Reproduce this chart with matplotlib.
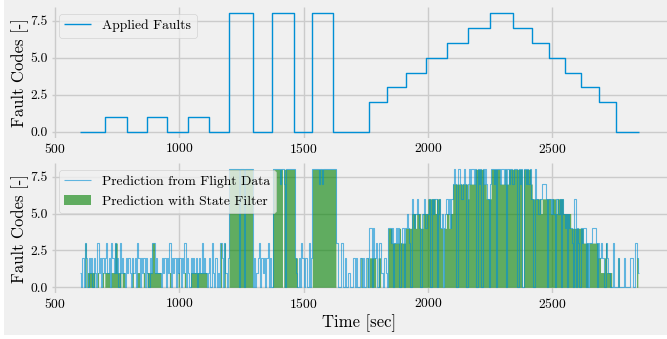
import numpy as np
import matplotlib
matplotlib.use("Agg")
import matplotlib.pyplot as plt
from matplotlib.patches import Rectangle

# ---------------- data ----------------
# Applied faults: change points (time [s]) and fault code from that time on
fault_times = [600, 700, 790, 870, 950, 1035, 1120, 1200, 1295, 1372, 1462, 1534, 1620,
               1765, 1835, 1912, 1993, 2077, 2163, 2252, 2342, 2418, 2487, 2554, 2617,
               2688, 2758, 2850]
fault_codes = [0, 1, 0, 1, 0, 1, 0, 8, 0, 8, 0, 8, 0,
               2, 3, 4, 5, 6, 7, 8, 7, 6, 5, 4, 3,
               2, 0, 0]

# Predictions sampled every 5 s from 600 s to 2850 s
pred_start = 600
pred_step = 5
pred_raw = [
    1,0,2,0,3,2,0,2,1,2,0,2,1,0,3,1,2,0,2,1,   # 600
    2,3,1,2,0,3,2,1,3,1,2,0,3,1,2,1,0,2,1,2,   # 700
    1,0,2,1,2,0,3,2,0,2,1,2,0,2,1,0,2,1,3,3,   # 800
    1,2,1,1,1,0,2,1,2,0,2,1,3,0,2,1,2,0,2,1,   # 900
    2,0,2,1,3,0,2,1,0,2,1,2,1,2,0,1,2,1,3,1,   # 1000
    2,1,0,1,2,0,3,1,0,2,0,1,0,3,2,0,3,1,0,2,   # 1100
    8,8,8,8,8,8,8,8,0,8,8,8,0,8,8,8,8,8,8,0,   # 1200
    2,0,1,2,3,0,2,1,2,0,2,3,0,2,0,8,8,8,8,8,   # 1300
    8,7,8,8,7,0,8,8,8,8,8,8,8,2,1,0,2,0,3,2,   # 1400
    0,2,2,0,3,0,2,8,8,8,8,8,7,8,8,7,8,8,8,8,   # 1500
    8,8,8,8,8,8,3,3,0,0,3,3,0,2,0,0,1,0,0,0,   # 1600
    2,0,2,0,0,2,2,0,2,0,2,2,0,4,4,0,4,2,3,0,   # 1700
    0,3,1,1,0,2,1,0,4,4,3,4,0,3,4,3,4,0,3,4,   # 1800
    4,0,4,5,4,3,0,6,5,4,5,6,5,4,0,5,5,6,4,5,   # 1900
    5,6,0,6,5,6,6,0,5,6,4,5,0,4,5,6,5,6,4,6,   # 2000
    7,8,7,0,8,8,7,6,7,8,7,0,7,8,7,8,8,7,8,0,   # 2100
    8,7,8,0,8,7,8,7,6,0,7,8,8,7,8,0,8,8,7,8,   # 2200
    8,7,8,0,8,7,8,8,7,8,8,8,0,8,7,8,0,8,8,7,   # 2300
    8,7,8,6,6,0,8,6,6,5,6,6,7,7,7,6,0,6,6,5,   # 2400
    6,5,0,6,6,5,6,0,6,5,4,5,0,5,4,4,3,0,6,0,   # 2500
    4,3,0,4,3,4,4,0,3,0,3,3,4,4,4,3,0,3,2,3,   # 2600
    2,2,0,3,2,1,1,0,0,3,0,0,0,2,0,0,0,0,2,0,   # 2700
    0,0,0,2,2,0,0,3,2,1,1,                     # 2800-2850
]
pred_filtered = [
    0,0,0,0,3,0,1,1,1,1,1,1,0,0,1,0,0,0,1,0,   # 600
    1,1,1,1,0,1,1,1,3,3,1,1,1,0,1,1,0,0,0,0,   # 700
    0,0,1,0,0,0,1,1,0,0,0,1,0,0,1,1,1,1,3,3,   # 800
    1,1,1,1,1,0,0,0,0,0,0,0,1,0,0,0,0,0,0,1,   # 900
    0,0,0,0,1,0,0,0,0,1,1,1,1,1,1,1,1,1,1,1,   # 1000
    1,1,0,0,0,0,0,0,0,0,0,0,0,3,0,0,3,0,0,0,   # 1100
    8,8,8,8,8,8,8,8,8,8,8,8,8,8,8,8,8,8,8,0,   # 1200
    0,0,0,0,0,0,0,0,0,0,0,0,0,0,0,8,8,8,8,8,   # 1300
    8,8,8,0,8,8,8,8,8,8,8,8,8,2,2,0,0,0,0,0,   # 1400
    0,0,0,0,0,0,0,8,8,8,8,8,8,8,8,8,8,8,8,8,   # 1500
    8,8,8,8,8,8,0,0,0,0,0,0,0,0,0,0,0,0,0,0,   # 1600
    0,0,0,0,0,0,2,0,0,0,0,2,0,2,2,2,2,2,0,0,   # 1700
    2,2,0,0,0,0,0,0,4,4,4,3,3,3,3,3,3,4,3,3,   # 1800
    3,3,4,4,4,4,4,5,5,5,4,5,5,5,4,4,5,5,5,5,   # 1900
    6,6,6,6,6,6,5,6,6,6,4,4,0,4,4,5,5,4,5,5,   # 2000
    7,7,7,7,7,7,7,7,7,7,7,7,6,7,7,7,7,7,8,8,   # 2100
    8,8,8,8,8,7,7,6,6,6,6,8,8,8,8,8,8,8,7,7,   # 2200
    7,7,8,7,7,8,8,8,8,8,8,8,8,8,8,8,0,8,8,8,   # 2300
    8,8,8,7,6,6,6,6,6,6,6,5,6,6,6,6,6,6,6,5,   # 2400
    6,6,6,5,6,6,6,6,6,5,5,5,5,5,5,4,4,4,4,4,   # 2500
    4,4,4,4,4,3,3,3,3,0,3,3,3,3,3,3,3,2,2,1,   # 2600
    1,1,2,3,1,1,1,1,0,0,0,0,0,2,0,0,0,0,0,0,   # 2700
    0,0,0,0,0,0,0,0,2,0,0,                     # 2800-2850
]

x_ticks = [500, 1000, 1500, 2000, 2500]
y_ticks = [0.0, 2.5, 5.0, 7.5]

# ---------------- style ----------------
plt.style.use("fivethirtyeight")
plt.rcParams.update({
    "font.family": "serif",
    "font.serif": ["cmr10", "DejaVu Serif"],
    "axes.formatter.use_mathtext": True,
    "axes.unicode_minus": False,
})

W, H = 667, 339
fig = plt.figure(figsize=(W / 100, H / 100), dpi=100, facecolor="white")
fig.patches.append(Rectangle((4 / W, 4 / H), 1, 1, transform=fig.transFigure,
                             facecolor="#f0f0f0", edgecolor="none", zorder=-10))

ax1 = fig.add_axes([52 / W, 1 - 137.6 / H, 615 / W, 130.2 / H])
ax2 = fig.add_axes([52 / W, 1 - 293.2 / H, 615 / W, 129.8 / H])

blue = "#008fd5"

ax1.plot(fault_times, fault_codes, drawstyle="steps-post", color=blue, lw=1.0,
         label="Applied Faults")

t = pred_start + pred_step * np.arange(len(pred_raw))
ax2.plot(t, pred_raw, drawstyle="steps-post", color=blue, alpha=0.6, lw=0.8,
         label="Prediction from Flight Data")
ax2.fill_between(t, pred_filtered, step="post", color="g", alpha=0.6, lw=0,
                 label="Prediction with State Filter")

for ax in (ax1, ax2):
    ax.set_facecolor("#f0f0f0")
    ax.set_xticks(x_ticks)
    ax.set_yticks(y_ticks)
    ax.set_yticklabels([f"{v:.1f}" for v in y_ticks])
    ax.tick_params(axis="both", labelsize=9.8, length=0, pad=3)
    ax.grid(True, color="#cbcbcb", lw=1.0)
    for s in ax.spines.values():
        s.set_visible(False)
    ax.set_ylabel("Fault Codes [-]", fontsize=12, labelpad=1)
    ax.set_ylim(-0.4, 8.4)
    ax.set_xlim(487.5, 2962.5)
    ax.legend(loc="upper left", fontsize=9.8, frameon=True, fancybox=True,
              facecolor="#f0f0f0", edgecolor="#cccccc", framealpha=0.8,
              handlelength=2.0, borderpad=0.4)

ax2.set_xlabel("Time [sec]", fontsize=12, labelpad=2)

fig.savefig("out.png", dpi=100, facecolor=fig.get_facecolor())
